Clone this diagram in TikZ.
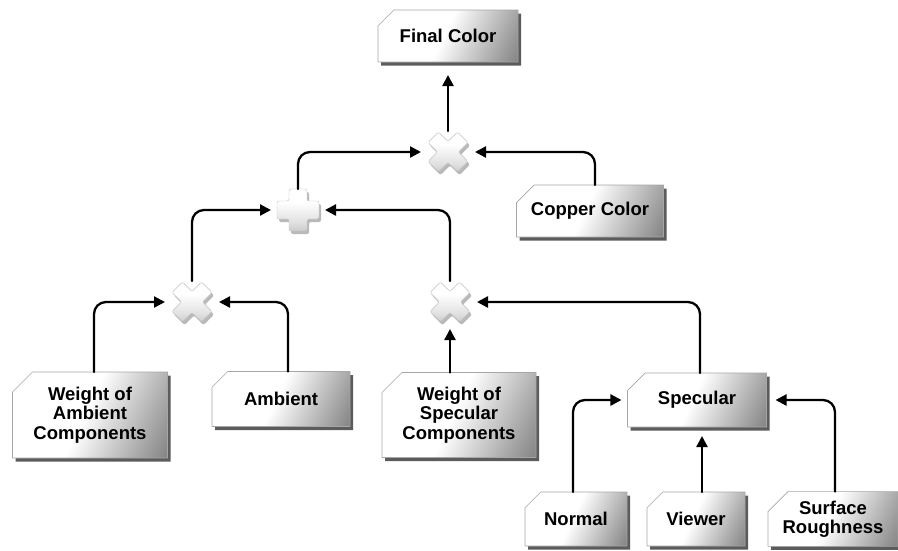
\documentclass[tikz,border=0pt]{standalone}
\usepackage{fontspec}
\setmainfont{Liberation Sans}
\usetikzlibrary{arrows.meta,shapes.misc,shadows}
\pgfdeclarehorizontalshading{boxfade}{100bp}{color(0bp)=(white); color(48bp)=(white); color(100bp)=(black!72)}
\pgfdeclareverticalshading{opfade}{100bp}{color(0bp)=(black!42); color(35bp)=(black!12); color(60bp)=(white); color(100bp)=(white)}
\begin{document}
\begin{tikzpicture}[x=1pt, y=-1pt, line join=round, line cap=round]
    % Gaya kotak, operator dan panah
    \tikzset{
      box/.style={chamfered rectangle, chamfered rectangle corners=north west,
        chamfered rectangle xsep=11pt, chamfered rectangle ysep=9pt,
        draw=black!35, line width=0.6pt, shading=boxfade, shading angle=-25,
        drop shadow={shadow xshift=3pt, shadow yshift=-3.5pt, opacity=.8, fill=black!80},
        font=\bfseries\fontsize{18.5}{19.5}\selectfont, align=center,
        inner sep=0pt, outer sep=0pt},
      opnode/.style={minimum size=42pt, inner sep=0pt, outer sep=0pt},
      link/.style={-{Triangle[length=11pt,width=11pt]}, line width=2.3pt,
        rounded corners=12pt, shorten >=6pt},
      timesop/.pic={
        \fill[black!55, opacity=.5, xshift=2pt, yshift=-3pt, rounded corners=2pt]
          (-9.5,20) -- (0,10.5) -- (9.5,20) -- (20,9.5) -- (10.5,0) -- (20,-9.5)
          -- (9.5,-20) -- (0,-10.5) -- (-9.5,-20) -- (-20,-9.5) -- (-10.5,0) -- (-20,9.5) -- cycle;
        \shade[shading=opfade, draw=black!25, rounded corners=2pt]
          (-9.5,20) -- (0,10.5) -- (9.5,20) -- (20,9.5) -- (10.5,0) -- (20,-9.5)
          -- (9.5,-20) -- (0,-10.5) -- (-9.5,-20) -- (-20,-9.5) -- (-10.5,0) -- (-20,9.5) -- cycle;
      },
      plusop/.pic={
        \fill[black!55, opacity=.5, xshift=2pt, yshift=-3pt, rounded corners=2pt]
          (-9,-21) -- (9,-21) -- (9,-9) -- (21,-9) -- (21,9) -- (9,9)
          -- (9,21) -- (-9,21) -- (-9,9) -- (-21,9) -- (-21,-9) -- (-9,-9) -- cycle;
        \shade[shading=opfade, draw=black!25, rounded corners=2pt]
          (-9,-21) -- (9,-21) -- (9,-9) -- (21,-9) -- (21,9) -- (9,9)
          -- (9,21) -- (-9,21) -- (-9,9) -- (-21,9) -- (-21,-9) -- (-9,-9) -- cycle;
      }
    }
    \useasboundingbox (0,0) rectangle (898,550);

    % Kotak masukan dan keluaran
    \node[box, minimum width=140pt, minimum height=52pt] (final) at (448,36) {Final Color};
    \node[box, minimum width=147pt, minimum height=52pt] (copper) at (590,211) {Copper Color};
    \node[box, minimum width=155pt, minimum height=86pt] (wamb) at (90,415) {Weight of\\Ambient\\Components};
    \node[box, minimum width=138pt, minimum height=55pt] (amb) at (281,399) {Ambient};
    \node[box, minimum width=154pt, minimum height=85pt] (wspec) at (459,415) {Weight of\\Specular\\Components};
    \node[box, minimum width=139pt, minimum height=54pt] (spec) at (697,400) {Specular};
    \node[box, minimum width=102pt, minimum height=54pt] (normal) at (576,519) {Normal};
    \node[box, minimum width=98pt, minimum height=54pt] (viewer) at (696,519) {Viewer};
    \node[box, minimum width=130pt, minimum height=54pt] (rough) at (833,519) {Surface\\Roughness};

    % Operator perkalian dan penjumlahan
    \node[opnode] (mulTop) at (448,152) {};
    \node[opnode] (plusOp) at (298,210) {};
    \node[opnode] (mulLeft) at (192,302) {};
    \node[opnode] (mulMid) at (450,302) {};
    \foreach \n in {mulTop,mulLeft,mulMid} {
      \pic at (\n) {timesop};
    }
    \pic at (plusOp) {plusop};

    % Panah penghubung
    \draw[link, shorten >=13pt] (mulTop) -- (final);
    \draw[link] ([xshift=5pt]copper.north) |- (mulTop);
    \draw[link] (plusOp) |- (mulTop);
    \draw[link] (mulLeft) |- (plusOp);
    \draw[link] (mulMid) |- (plusOp);
    \draw[link] ([xshift=4pt]wamb.north) |- (mulLeft);
    \draw[link] ([xshift=7pt]amb.north) |- (mulLeft);
    \draw[link] (wspec.north -| mulMid) -- (mulMid);
    \draw[link] ([xshift=3pt]spec.north) |- (mulMid);
    \draw[link] ([xshift=-3pt]normal.north) |- (spec);
    \draw[link, shorten >=9pt] ([xshift=6pt]viewer.north) -- ([xshift=6pt]viewer.north |- spec.south);
    \draw[link, shorten >=9pt] ([xshift=2pt]rough.north) |- (spec);
\end{tikzpicture}
\end{document}
